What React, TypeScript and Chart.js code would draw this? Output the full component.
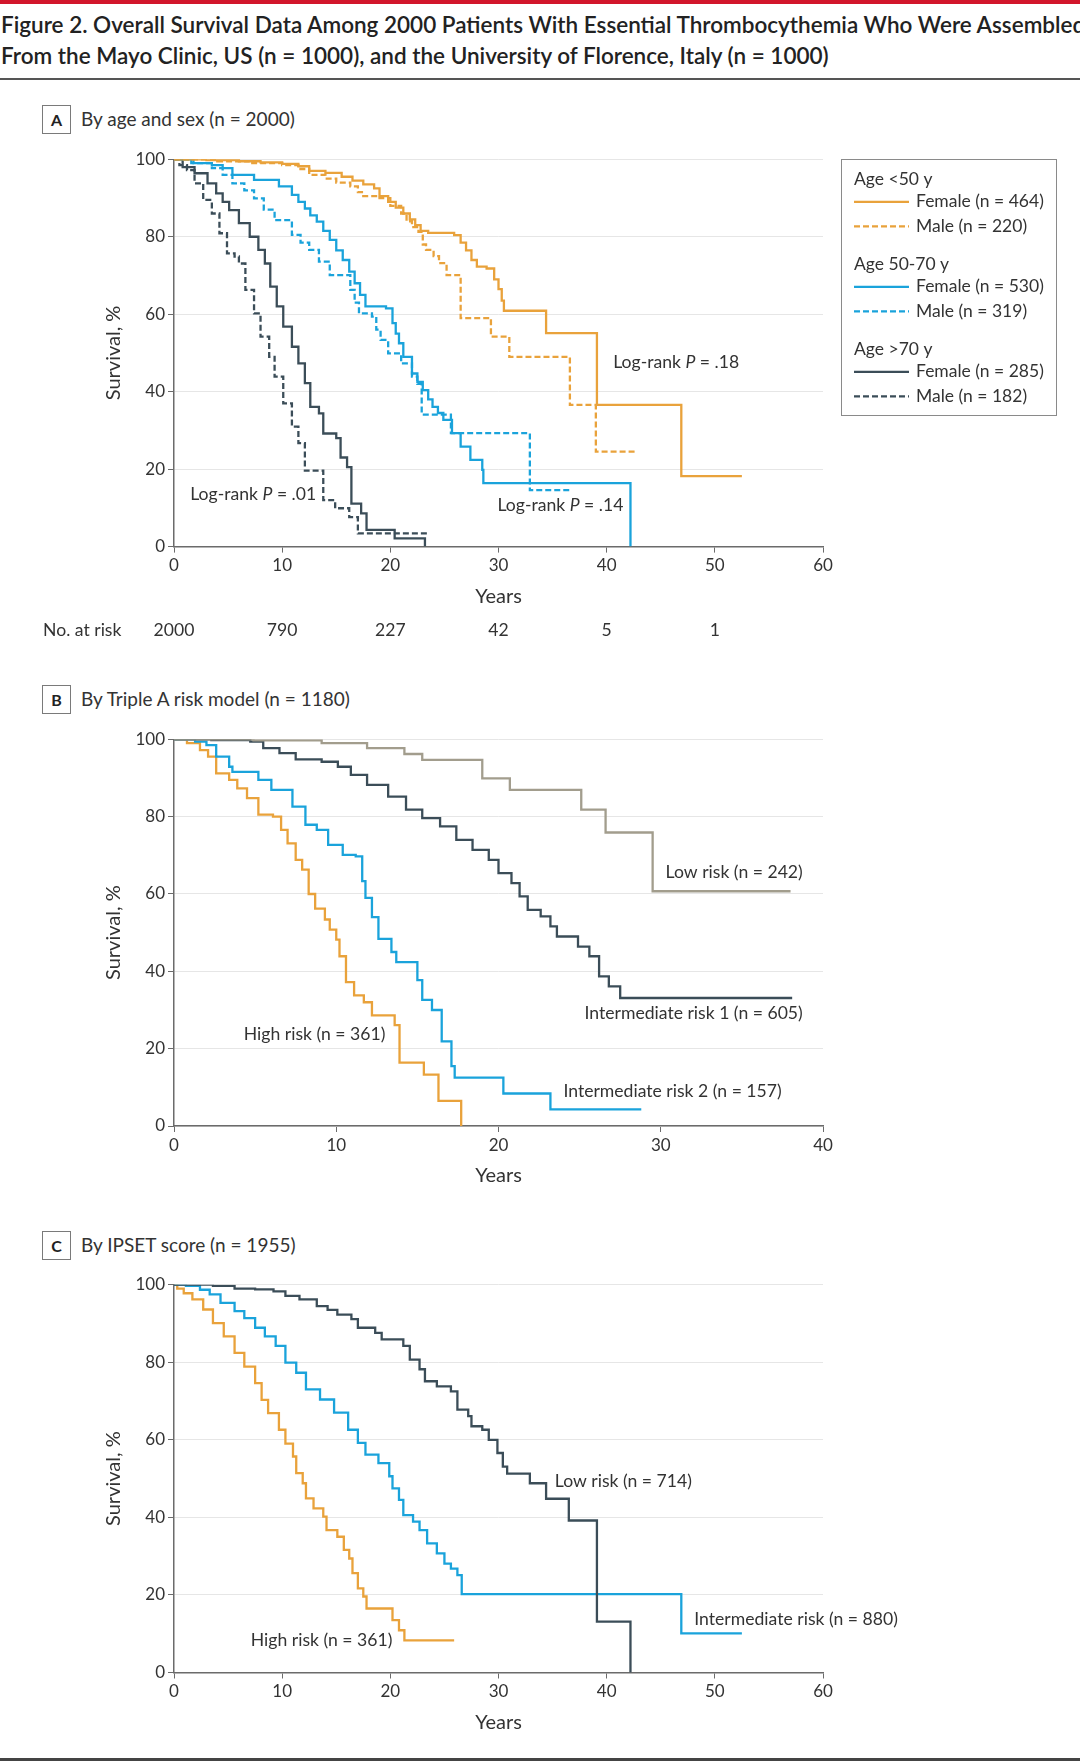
import React, { useEffect, useRef } from "react";
import { Chart, registerables } from "chart.js";
Chart.register(...registerables);

const FONT = "Lato, 'Open Sans', 'DejaVu Sans', sans-serif";
const TEXT = "#333333";
const ORANGE = "#E9A23B";
const BLUE = "#1AA3DB";
const DARK = "#3B4D58";
const KHAKI = "#A29D8D";
const AXIS = "#6b6b6b";
const GRID = "#e6e6e6";

type Pt = [number, number];

// ---------- Panel A: by age and sex ----------
const aFemaleLt50: Pt[] = [[0,100],[3,99.8],[6,99.5],[8,99.2],[10,98.8],[11.5,98.2],[12.5,97],[14,96.5],[15.5,95.5],[16.5,94.5],[17.5,93.5],[18.5,92.5],[19,90.5],[19.8,89],[20.5,87.5],[21.2,86],[21.8,84.5],[22.3,83],[22.8,81.5],[23.5,81],[25.9,80.4],[26.5,78.5],[27,76.5],[27.5,74],[28,72.3],[28.9,71.8],[29.6,69],[30,66.5],[30.3,63.5],[30.5,60.9],[34.4,55.1],[39.1,36.6],[46.9,18.2],[52.5,18.2]];
const aMaleLt50: Pt[] = [[0,100],[4,99.5],[7,99],[10,98.5],[11.5,97.5],[12.5,96],[14,95],[15,94],[16.3,93],[17,91.5],[17.5,90.5],[19,90],[20,88],[21,86],[21.5,84],[22,82.5],[22.6,81.3],[23,78],[23.3,76.6],[24,75],[24.5,73.2],[25.2,70.1],[26.5,59],[29.3,54.2],[31,49],[36.6,36.6],[39,24.5],[42.6,24.5]];
const aFemale5070: Pt[] = [[0,100],[1.6,99],[3.5,98.5],[4.5,97.7],[5.4,96],[7.4,94.7],[9.7,93],[10.9,90.8],[11.5,89],[12.1,87.3],[12.6,85.5],[13.2,83.9],[13.8,81.5],[14.4,79.2],[15,76.5],[15.6,74],[16.2,71],[16.7,68],[17.2,65],[17.7,62],[19.6,61.5],[20.2,57.7],[20.5,55],[20.8,52.5],[21.2,49],[22,44.7],[22.5,42.5],[23,40.4],[23.5,38],[23.9,36.1],[24.4,34.5],[24.9,32.7],[25.7,29.3],[26.5,25.8],[27.4,22.4],[28.5,19.8],[28.6,16.4],[42.2,0]];
const aMale5070: Pt[] = [[0,100],[1.8,99],[3.5,97.7],[4.5,96],[5.4,93.8],[6.5,92],[7.4,89.9],[8.3,87],[9.3,84.3],[10.9,80.5],[11.7,78.5],[12.5,76.6],[13.4,73.6],[14.4,70.1],[16.3,66.3],[16.7,63],[17.1,60.2],[18.3,59.4],[18.7,56],[19.1,53.4],[19.8,49.9],[21,47.3],[22,43.9],[22.5,42],[22.9,34.1],[25.6,29.3],[32.9,14.6],[36.8,14.6]];
const aFemaleGt70: Pt[] = [[0,100],[0.8,98],[1.9,96.4],[3.1,93.8],[3.9,91.2],[4.5,89],[5.1,86.9],[6,83.5],[7,80],[7.8,76.6],[8.4,73.1],[8.9,67.1],[9.5,62],[10.1,56.8],[10.9,51.6],[11.5,47.3],[12.1,42.2],[12.6,36.1],[13.4,34.4],[13.8,29.2],[15,28],[15.4,23],[16,20.5],[16.4,11.1],[17.3,8.6],[17.8,4.3],[20.4,2.1],[23.2,0]];
const aMaleGt70: Pt[] = [[0,100],[0.5,98.5],[1.2,97.2],[1.9,93.8],[2.7,89.5],[3.5,86],[4.2,80.9],[4.9,75.7],[5.6,74.9],[6,73.1],[6.6,66.3],[7.4,60.2],[8,54.2],[8.8,49],[9.3,43.9],[10.1,37],[10.9,31],[11.5,26.7],[12.1,19.6],[13.8,12],[14.9,9.9],[16.2,7.6],[17,3.4],[23.4,3.4]];

const legendGroups = ["Age <50 y", "Age 50-70 y", "Age >70 y"];
const legendItems = ["Female (n = 464)", "Male (n = 220)", "Female (n = 530)", "Male (n = 319)", "Female (n = 285)", "Male (n = 182)"];

const atRiskYears = [0, 10, 20, 30, 40, 50];
const atRiskCounts = ["2000", "790", "227", "42", "5", "1"];

const annotA = [
  { text: "Log-rank |P| = .18", x: 40.6, y: 47.5 },
  { text: "Log-rank |P| = .01", x: 1.5, y: 13.5 },
  { text: "Log-rank |P| = .14", x: 29.9, y: 10.7 },
];

// ---------- Panel B: Triple A risk model ----------
const bLow: Pt[] = [[0,100],[4.9,99.7],[9.1,99],[11.9,97.7],[14.2,96.2],[15.3,94.7],[19,89.9],[20.7,86.9],[25.1,81.8],[26.6,75.9],[29.5,60.7],[38,60.7]];
const bInt1: Pt[] = [[0,100],[2.3,99.8],[4.7,99.4],[5.5,97.7],[6.5,96.4],[7.5,94.8],[9.1,94.2],[10.1,92.9],[10.9,90.8],[11.9,88.2],[13.2,85.2],[14.3,81.8],[15.3,79.6],[16.4,77.5],[17.4,74],[18.4,71.4],[19.4,68.8],[20,65.4],[20.8,62.8],[21.3,59.4],[21.8,55.9],[22.6,54.2],[23.2,51.6],[23.6,49],[24.9,46.4],[25.6,43.9],[26.2,38.7],[26.8,36.1],[27.5,33.1],[38.1,33.1]];
const bInt2: Pt[] = [[0,100],[1.3,99.4],[2,98.5],[2.6,95.5],[3.4,92.9],[3.6,91.6],[5.2,89.5],[6,86.9],[7.3,82.6],[8.1,77.9],[8.8,76.6],[9.5,72.7],[10.4,70.1],[11.2,69.7],[11.6,63.3],[11.8,59],[12.2,54],[12.6,48.4],[13.4,45],[13.7,42.4],[15,37.7],[15.3,32.6],[15.9,30],[16.5,21.9],[17.1,15.5],[17.3,12.5],[20.3,8.4],[23.2,4.3],[28.8,4.3]];
const bHigh: Pt[] = [[0,100],[0.8,99],[1.6,97.2],[2.1,95.5],[2.6,91.2],[3.4,89.5],[3.9,87.3],[4.5,84.8],[5.2,80.5],[6.1,80],[6.6,76.6],[7,73.1],[7.5,68.8],[7.9,66.3],[8.3,60],[8.7,56.2],[9.3,53.4],[9.6,50.8],[10,48.2],[10.2,43.9],[10.6,37.2],[11.1,33.8],[11.7,32],[12.2,28.6],[13.6,26.1],[13.9,16.4],[15.4,13.3],[16.3,6.5],[17.7,0]];

const annotB = [
  { text: "Low risk (n = 242)", x: 30.3, y: 65.6 },
  { text: "Intermediate risk 1 (n = 605)", x: 25.3, y: 29.1 },
  { text: "Intermediate risk 2 (n = 157)", x: 24.0, y: 9.0 },
  { text: "High risk (n = 361)", x: 4.3, y: 23.8 },
];

// ---------- Panel C: IPSET score ----------
const cLow: Pt[] = [[0,100],[3.6,99.7],[5.6,99],[7.5,98.8],[9.2,98.3],[10.3,97.1],[11.6,96.2],[13.2,94.5],[14.2,93.5],[15.1,92.3],[16.4,91.1],[17,88.9],[18.6,87.6],[19.2,85.9],[21.2,84.2],[21.8,80.7],[22.7,78.2],[23.2,75.1],[24.3,73.8],[25.6,72.5],[26.2,67.8],[27.2,66.1],[27.5,63.5],[28.5,62.6],[29.1,60],[29.9,56.6],[30.4,53.1],[30.8,51.3],[32.9,48.8],[34.4,44.8],[36.5,39.2],[39.1,13.1],[42.2,0]];
const cInt: Pt[] = [[0,100],[1.1,99.7],[2.4,98.7],[3.3,97.5],[4.3,95.3],[5.6,93.2],[6.5,91.4],[7.5,88.9],[8.4,86.7],[9.4,84.2],[10.3,79.9],[11.3,77.3],[12.2,73],[13.5,70.4],[14.8,67],[16.1,62.6],[17,59.2],[17.7,56.2],[18.9,54],[19.9,50.6],[20.2,47.5],[20.8,44.5],[21.2,40.6],[22.1,38.9],[22.7,36.7],[23.4,33.3],[24.3,30.7],[25,28.1],[25.6,26.8],[26.2,25.1],[26.6,20.2],[46.9,10.1],[52.5,10.1]];
const cHigh: Pt[] = [[0,100],[0.3,99],[0.9,97.8],[1.7,96.2],[2.7,93.6],[3.6,90.1],[4.6,86.7],[5.6,82.4],[6.5,78.9],[7.5,74.6],[8.1,70.3],[8.7,66.9],[9.7,62.6],[10.3,59],[11,55.7],[11.3,51.4],[11.9,48.8],[12.2,44.9],[12.9,42.3],[13.8,40.2],[14.1,36.7],[15.1,35],[15.7,31.6],[16.2,29.4],[16.5,25.6],[17,21.7],[17.5,19.6],[17.8,16.5],[20.2,13.5],[20.8,10.9],[21.3,8.3],[25.9,8.3]];

const annotC = [
  { text: "Low risk (n = 714)", x: 35.2, y: 49.2 },
  { text: "Intermediate risk (n = 880)", x: 48.1, y: 13.7 },
  { text: "High risk (n = 361)", x: 7.1, y: 8.4 },
];

const TITLE1 = "Figure 2. Overall Survival Data Among 2000 Patients With Essential Thrombocythemia Who Were Assembled";
const TITLE2 = "From the Mayo Clinic, US (n = 1000), and the University of Florence, Italy (n = 1000)";

// ---------- helpers ----------
const XH = 64; // x axis box height
const PLOT_LEFT = 174;
const PLOT_RIGHT = 823;
const LABEL_SIZE = 17.6;
const LINE_W = 2.3;

function ds(label: string, pts: Pt[], color: string, dashed = false) {
  return {
    label,
    data: pts.map(([x, y]) => ({ x, y })),
    borderColor: color,
    backgroundColor: color,
    borderWidth: LINE_W,
    borderDash: dashed ? [6, 3] : [],
    stepped: true,
    pointRadius: 0,
    fill: false,
  };
}

function labelPlugin(items: { text: string; x: number; y: number }[]) {
  return {
    id: "kmLabels",
    afterDatasetsDraw(chart: any) {
      const { ctx, scales } = chart;
      ctx.save();
      ctx.fillStyle = TEXT;
      ctx.textBaseline = "middle";
      ctx.textAlign = "left";
      for (const lab of items) {
        let x = scales.x.getPixelForValue(lab.x);
        const y = scales.y.getPixelForValue(lab.y);
        lab.text.split("|").forEach((p, i) => {
          ctx.font = `${i % 2 ? "italic " : ""}${LABEL_SIZE}px ${FONT}`;
          ctx.fillText(p, x, y);
          x += ctx.measureText(p).width;
        });
      }
      ctx.restore();
    },
  };
}

const atRiskPlugin = {
  id: "atRisk",
  afterDraw(chart: any) {
    const { ctx, scales, chartArea } = chart;
    const y = chartArea.bottom + 84;
    ctx.save();
    ctx.fillStyle = TEXT;
    ctx.font = `${LABEL_SIZE}px ${FONT}`;
    ctx.textBaseline = "middle";
    ctx.textAlign = "left";
    ctx.fillText("No. at risk", 43, y);
    ctx.textAlign = "center";
    atRiskYears.forEach((yr, i) => {
      ctx.fillText(atRiskCounts[i], scales.x.getPixelForValue(yr), y);
    });
    ctx.restore();
  },
};

const legendPlugin = {
  id: "groupLegend",
  afterDraw(chart: any) {
    const { ctx, chartArea } = chart;
    const bx = chartArea.right + 18;
    const by = chartArea.top;
    const bw = 215;
    const bh = 256;
    ctx.save();
    ctx.strokeStyle = "#8a8a8a";
    ctx.lineWidth = 1;
    ctx.strokeRect(Math.round(bx) + 0.5, Math.round(by) + 0.5, bw, bh);
    ctx.font = `17.5px ${FONT}`;
    ctx.fillStyle = TEXT;
    ctx.textBaseline = "middle";
    ctx.textAlign = "left";
    const dsets = chart.data.datasets;
    for (let g = 0; g < 3; g++) {
      const gy = by + 20 + g * 85;
      ctx.fillStyle = TEXT;
      ctx.fillText(legendGroups[g], bx + 13, gy);
      for (let k = 0; k < 2; k++) {
        const idx = g * 2 + k;
        const ly = gy + 22.5 + k * 24.5;
        const d = dsets[idx];
        ctx.strokeStyle = d.borderColor;
        ctx.lineWidth = LINE_W;
        ctx.setLineDash(d.borderDash || []);
        ctx.beginPath();
        ctx.moveTo(bx + 13, ly);
        ctx.lineTo(bx + 68, ly);
        ctx.stroke();
        ctx.setLineDash([]);
        ctx.fillStyle = TEXT;
        ctx.fillText(legendItems[idx], bx + 75, ly);
      }
    }
    ctx.restore();
  },
};

type KMProps = {
  top: number;
  height: number;
  chartTop: number;
  chartBottom: number;
  xMax: number;
  datasets: any[];
  plugins: any[];
};

function KM({ top, height, chartTop, chartBottom, xMax, datasets, plugins }: KMProps) {
  const ref = useRef<HTMLCanvasElement | null>(null);
  useEffect(() => {
    if (!ref.current) return;
    const tickFont = { family: FONT, size: 17 };
    const titleFont = { family: FONT, size: 20, lineHeight: 1.2 };
    const chart = new Chart(ref.current, {
      type: "line",
      data: { datasets },
      options: {
        animation: false,
        responsive: false,
        maintainAspectRatio: false,
        layout: {
          padding: {
            left: 0,
            right: 1080 - PLOT_RIGHT,
            top: chartTop - top,
            bottom: top + height - chartBottom - XH,
          },
        },
        plugins: { legend: { display: false }, tooltip: { enabled: false } },
        scales: {
          x: {
            type: "linear",
            min: 0,
            max: xMax,
            ticks: { stepSize: 10, font: tickFont, color: TEXT, padding: 3, maxRotation: 0, autoSkip: false },
            grid: { drawOnChartArea: false, drawTicks: true, tickLength: 6, color: AXIS, tickColor: AXIS, lineWidth: 1 },
            border: { color: AXIS, width: 1.5 },
            title: { display: true, text: "Years", font: titleFont, color: TEXT, padding: { top: 0, bottom: 2 } },
            afterFit: (s: any) => { s.height = XH; },
          },
          y: {
            min: 0,
            max: 100,
            ticks: { stepSize: 20, font: tickFont, color: TEXT, padding: 3 },
            grid: { color: GRID, tickColor: AXIS, tickLength: 6, lineWidth: 1 },
            border: { color: AXIS, width: 1.5 },
            title: { display: true, text: "Survival, %", font: titleFont, color: TEXT, padding: { top: 101.6, bottom: 0 } },
            afterFit: (s: any) => { s.width = PLOT_LEFT; },
          },
        },
      } as any,
      plugins,
    } as any);
    return () => chart.destroy();
  }, []);
  return (
    <canvas
      ref={ref}
      width={1080}
      height={height}
      style={{ position: "absolute", left: 0, top, width: 1080, height }}
    />
  );
}

function PanelHeader({ letter, text, top }: { letter: string; text: string; top: number }) {
  return (
    <>
      <div
        style={{
          position: "absolute",
          left: 42,
          top,
          width: 27,
          height: 27,
          border: "1px solid #7a7a7a",
          display: "flex",
          alignItems: "center",
          justifyContent: "center",
          fontWeight: 700,
          fontSize: 16,
          color: "#222",
        }}
      >
        {letter}
      </div>
      <div
        style={{
          position: "absolute",
          left: 81,
          top: top + 14 - 12,
          height: 24,
          lineHeight: "24px",
          fontSize: 19,
          color: TEXT,
          whiteSpace: "nowrap",
        }}
      >
        {text}
      </div>
    </>
  );
}

export default function App() {
  const dsA = [
    ds(legendItems[0], aFemaleLt50, ORANGE),
    ds(legendItems[1], aMaleLt50, ORANGE, true),
    ds(legendItems[2], aFemale5070, BLUE),
    ds(legendItems[3], aMale5070, BLUE, true),
    ds(legendItems[4], aFemaleGt70, DARK),
    ds(legendItems[5], aMaleGt70, DARK, true),
  ];
  const dsB = [
    ds("Low risk", bLow, KHAKI),
    ds("Intermediate risk 1", bInt1, DARK),
    ds("Intermediate risk 2", bInt2, BLUE),
    ds("High risk", bHigh, ORANGE),
  ];
  const dsC = [
    ds("Low risk", cLow, DARK),
    ds("Intermediate risk", cInt, BLUE),
    ds("High risk", cHigh, ORANGE),
  ];
  return (
    <div
      style={{
        position: "absolute",
        left: 0,
        top: 0,
        width: 1080,
        height: 1763,
        overflow: "hidden",
        background: "#fff",
        fontFamily: FONT,
        color: TEXT,
      }}
    >
      <div style={{ position: "absolute", left: 0, top: 0, width: 1080, height: 4, background: "#D2162B" }} />
      <div
        style={{
          position: "absolute",
          left: 1,
          top: 9,
          whiteSpace: "nowrap",
          fontSize: 22.5,
          fontWeight: 600,
          lineHeight: "31.3px",
          color: "#222",
        }}
      >
        <div>{TITLE1}</div>
        <div>{TITLE2}</div>
      </div>
      <div style={{ position: "absolute", left: 0, top: 78, width: 1080, height: 2, background: "#555" }} />

      <PanelHeader letter="A" text="By age and sex (n = 2000)" top={105} />
      <KM top={130} height={520} chartTop={159.3} chartBottom={546.6} xMax={60} datasets={dsA}
        plugins={[labelPlugin(annotA), atRiskPlugin, legendPlugin]} />

      <PanelHeader letter="B" text="By Triple A risk model (n = 1180)" top={684.5} />
      <KM top={720} height={480} chartTop={739.3} chartBottom={1126} xMax={40} datasets={dsB}
        plugins={[labelPlugin(annotB)]} />

      <PanelHeader letter="C" text="By IPSET score (n = 1955)" top={1231} />
      <KM top={1265} height={495} chartTop={1284.7} chartBottom={1672.5} xMax={60} datasets={dsC}
        plugins={[labelPlugin(annotC)]} />

      <div style={{ position: "absolute", left: 0, top: 1758, width: 1080, height: 3, background: "#444" }} />
    </div>
  );
}
